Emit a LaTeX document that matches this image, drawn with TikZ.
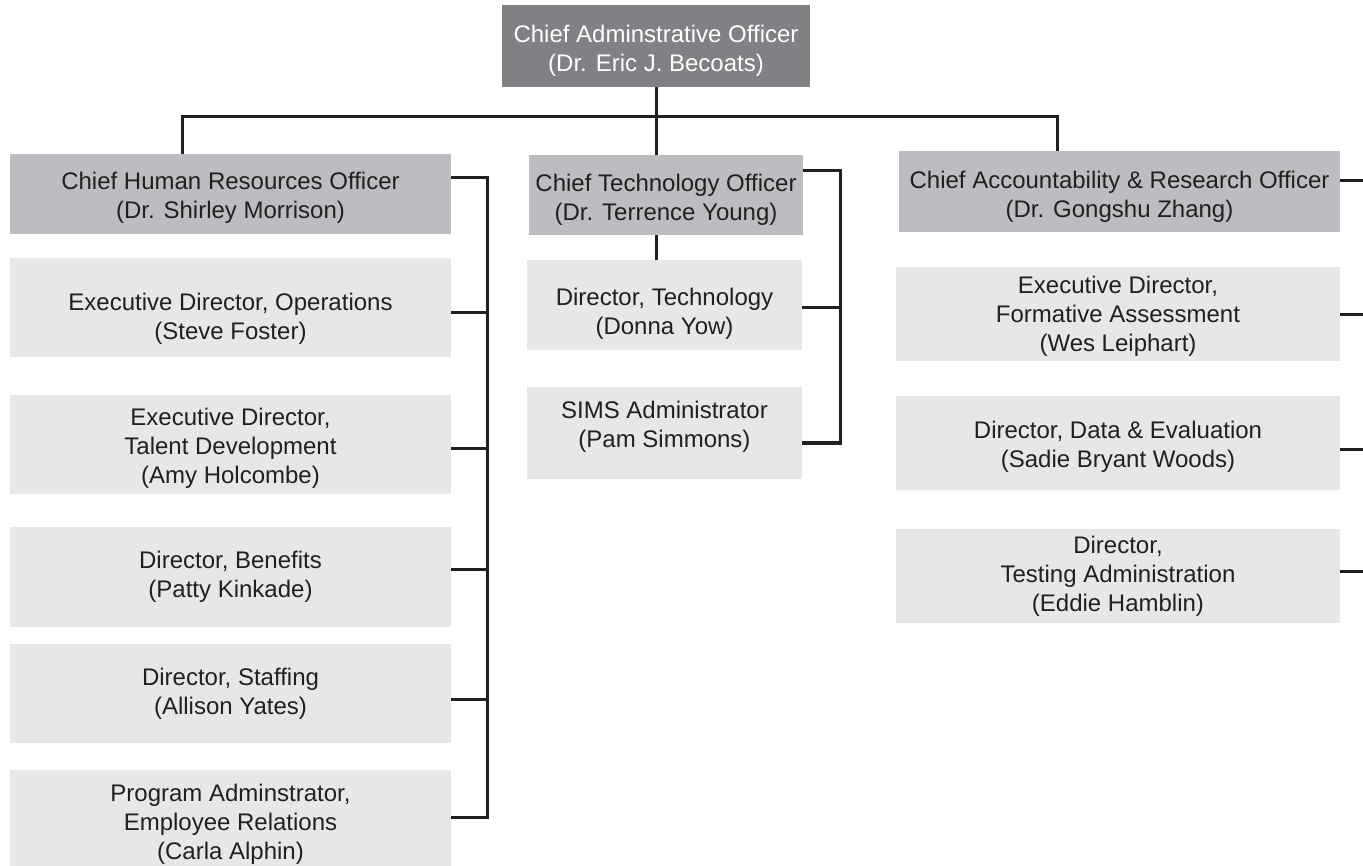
\documentclass[tikz,border=0pt]{standalone}
\usepackage{fontspec}
\setmainfont{Liberation Sans}
\usepackage{xcolor}
\usetikzlibrary{positioning}
\definecolor{caobox}{HTML}{808184}
\definecolor{chiefbox}{HTML}{BCBDC0}
\definecolor{staffbox}{HTML}{E6E7E8}
\definecolor{inkline}{HTML}{231F20}

\begin{document}
\begin{tikzpicture}[x=1pt, y=-1pt,
		box/.style={rectangle, inner sep=0pt, align=center, text=inkline, font=\fontsize{24}{29}\selectfont},
		cao/.style={box, fill=caobox, text=white, minimum width=308pt, minimum height=82pt},
		chief/.style={box, fill=chiefbox, minimum height=80pt},
		staff/.style={box, fill=staffbox},
		textdrop/.style={text height=#1},
		link/.style={draw=inkline, line width=3pt},
		bus/.style={link, line cap=rect}
		]
		\useasboundingbox (0,0) rectangle (1363,866);
		\node[cao, textdrop=56.5pt] (cao) at (656, 46) {Chief Adminstrative Officer\\(Dr. Eric J. Becoats)};
		
		% left column
		\node[chief, minimum width=441pt, textdrop=53.5pt] (hr) at (230.5, 194) {Chief Human Resources Officer\\(Dr. Shirley Morrison)};
		\node[staff, minimum width=441pt, minimum height=99pt, textdrop=68.5pt] (ops) at (230.5, 307.5) {Executive Director, Operations\\(Steve Foster)};
		\node[staff, minimum width=441pt, minimum height=99pt, textdrop=82.5pt] (talent) at (230.5, 444.5) {Executive Director,\\Talent Development\\(Amy Holcombe)};
		\node[staff, minimum width=441pt, minimum height=100pt] (benefits) at (230.5, 577) {Director, Benefits\\(Patty Kinkade)};
		\node[staff, minimum width=441pt, minimum height=99pt] (staffing) at (230.5, 693.5) {Director, Staffing\\(Allison Yates)};
		\node[staff, minimum width=441pt, minimum height=99pt, textdrop=85.5pt] (program) at (230.5, 819.5) {Program Adminstrator,\\Employee Relations\\(Carla Alphin)};
		
		% middle column
		\node[chief, minimum width=274pt, textdrop=56.5pt] (cto) at (666, 195) {Chief Technology Officer\\(Dr. Terrence Young)};
		\node[staff, minimum width=275pt, minimum height=90pt, textdrop=64.5pt] (dtech) at (664.5, 305) {Director, Technology\\(Donna Yow)};
		\node[staff, minimum width=275pt, minimum height=92pt, text depth=17pt] (sims) at (664.5, 433) {SIMS Administrator\\(Pam Simmons)};
		
		% right column
		\node[chief, minimum width=441pt, minimum height=81pt, textdrop=56.5pt] (caro) at (1119.5, 191.5) {Chief Accountability \& Research Officer\\(Dr. Gongshu Zhang)};
		\node[staff, minimum width=444pt, minimum height=94pt, textdrop=79.5pt] (formative) at (1118, 314) {Executive Director,\\Formative Assessment\\(Wes Leiphart)};
		\node[staff, minimum width=444pt, minimum height=94pt, textdrop=53.5pt] (data) at (1118, 443) {Director, Data \& Evaluation\\(Sadie Bryant Woods)};
		\node[staff, minimum width=444pt, minimum height=94pt] (testing) at (1118, 576) {Director,\\Testing Administration\\(Eddie Hamblin)};
		
		% top bus
		\coordinate (busW) at (182, 117);
		\coordinate (busE) at (1057, 117);
		\draw[bus] (busW) -- (busE);
		\draw[link] (cao.south) -- (cao.south |- busW);
		\draw[link] (busW) -- (busW |- hr.north);
		\draw[link] (cao.south |- busW) -- (cao.south |- cto.north);
		\draw[link] (busE) -- (busE |- caro.north);
		\draw[link] (cao.south |- cto.south) -- (cao.south |- dtech.north);
		
		\foreach \n/\y [count=\i] in {hr/178, ops/313, talent/448, benefits/569, staffing/699, program/817} {
			\coordinate (hb\i) at (487, \y);
			\draw[link] (\n.east |- hb\i) -- (hb\i);
		}
		\draw[bus] (hb1) -- (hb6);
		
		\foreach \n/\y [count=\i] in {cto/171, dtech/308, sims/443} {
			\coordinate (cb\i) at (840, \y);
			\draw[link] (\n.east |- cb\i) -- (cb\i);
		}
		\draw[bus] (cb1) -- (cb3);
		
		\foreach \n/\y [count=\i] in {caro/181, formative/315, data/449, testing/571} {
			\coordinate (rb\i) at (1363, \y);
			\draw[link] (\n.east |- rb\i) -- (rb\i);
		}
\end{tikzpicture}
\end{document}
